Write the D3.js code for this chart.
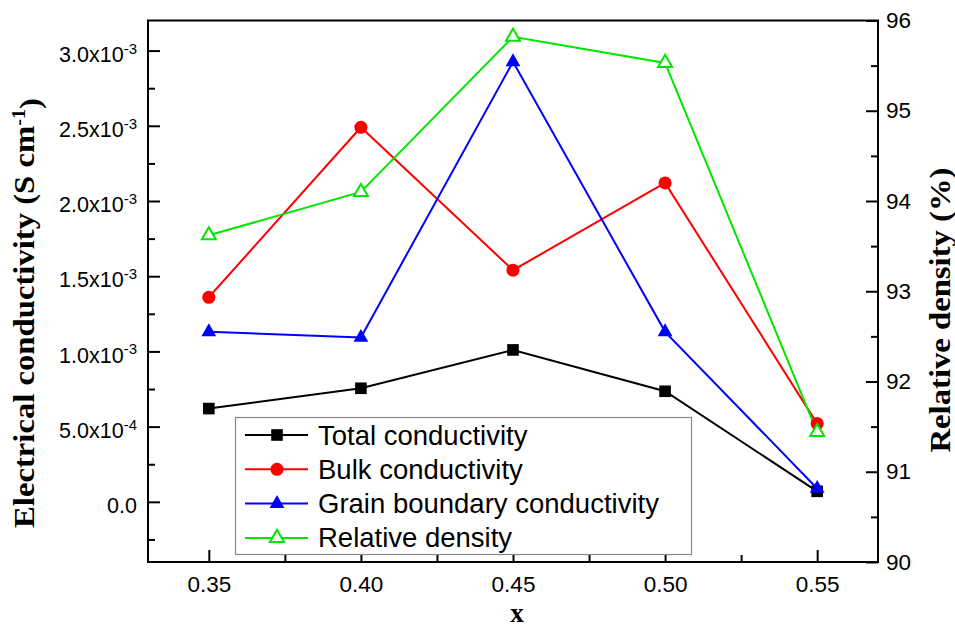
<!DOCTYPE html>
<html>
<head>
<meta charset="utf-8">
<script src="https://cdn.jsdelivr.net/npm/d3@7"></script>
<style>
  body { margin: 0; background: #fff; }
  svg { display: block; }
  .tick text { font-family: "Liberation Sans", Arial, sans-serif; fill: #000; }
</style>
</head>
<body>
<div id="chart"></div>
<script>
// data
var xVals = [0.35, 0.40, 0.45, 0.50, 0.55];
var totalCond = [6.2e-4, 7.55e-4, 1.01e-3, 7.35e-4, 7.0e-5];
var bulkCond = [1.36e-3, 2.49e-3, 1.54e-3, 2.12e-3, 5.2e-4];
var grainCond = [1.13e-3, 1.093e-3, 2.925e-3, 1.13e-3, 8.9e-5];
var relDensity = [93.62, 94.10, 95.82, 95.53, 91.44];

var xTicks = [0.35, 0.40, 0.45, 0.50, 0.55];
var xMinor = [0.375, 0.425, 0.475, 0.525];
var yLeftTicks = [0, 5e-4, 1e-3, 1.5e-3, 2e-3, 2.5e-3, 3e-3];
var yLeftMinor = [-2.5e-4, 2.5e-4, 7.5e-4, 1.25e-3, 1.75e-3, 2.25e-3, 2.75e-3];
var yRightTicks = [90, 91, 92, 93, 94, 95, 96];
var yRightMinor = [90.5, 91.5, 92.5, 93.5, 94.5, 95.5];
var legendNames = ["Total conductivity", "Bulk conductivity", "Grain boundary conductivity", "Relative density"];

var W = 955, H = 628;
var L = 148, R = 878, T = 20.5, B = 562;

var svg = d3.select("#chart").append("svg")
    .attr("width", W)
    .attr("height", H);

var x = d3.scaleLinear().domain([0.33, 0.57]).range([L, R]);
var yL = d3.scaleLinear().domain([-4e-4, 3.2e-3]).range([B, T]);
var yR = d3.scaleLinear().domain([90, 96]).range([B, T]);

// axes (ticks pointing inwards)
function noDomain(g) { g.select(".domain").remove(); }

var gx = svg.append("g").attr("transform", "translate(0," + B + ")")
    .call(d3.axisBottom(x).tickValues(xTicks).tickSizeInner(-12).tickSizeOuter(0).tickPadding(14)
        .tickFormat(d3.format(".2f")))
    .call(noDomain);
gx.selectAll("text").style("font-size", "22.5px");
svg.append("g").attr("transform", "translate(0," + B + ")")
    .call(d3.axisBottom(x).tickValues(xMinor).tickSizeInner(-7).tickSizeOuter(0).tickFormat(""))
    .call(noDomain);

var gl = svg.append("g").attr("transform", "translate(" + L + ",0)")
    .call(d3.axisLeft(yL).tickValues(yLeftTicks).tickSizeInner(-12).tickSizeOuter(0).tickPadding(11))
    .call(noDomain);
gl.selectAll("text").each(function (d) {
    var t = d3.select(this).text("").attr("dy", "0.5em").style("font-size", "21.5px");
    if (d === 0) {
        t.text("0.0");
        return;
    }
    var e = Math.floor(Math.log10(d) + 1e-9);
    var m = d / Math.pow(10, e);
    t.append("tspan").text(m.toFixed(1) + "x10");
    t.append("tspan").attr("dy", "-0.55em").style("font-size", "15px").text(e);
});
svg.append("g").attr("transform", "translate(" + L + ",0)")
    .call(d3.axisLeft(yL).tickValues(yLeftMinor).tickSizeInner(-7).tickSizeOuter(0).tickFormat(""))
    .call(noDomain);

var gr = svg.append("g").attr("transform", "translate(" + R + ",0)")
    .call(d3.axisRight(yR).tickValues(yRightTicks).tickSizeInner(-12).tickSizeOuter(0).tickPadding(8)
        .tickFormat(d3.format("d")))
    .call(noDomain);
gr.selectAll("text").style("font-size", "22.5px");
svg.append("g").attr("transform", "translate(" + R + ",0)")
    .call(d3.axisRight(yR).tickValues(yRightMinor).tickSizeInner(-7).tickSizeOuter(0).tickFormat(""))
    .call(noDomain);

svg.selectAll(".tick line").attr("stroke", "#000").attr("stroke-width", 2);

// frame
svg.append("rect")
    .attr("x", L).attr("y", T)
    .attr("width", R - L).attr("height", B - T)
    .attr("fill", "none").attr("stroke", "#000").attr("stroke-width", 2);

// series
var series = [
    {name: legendNames[0], vals: totalCond, y: yL, color: "#000000", sym: d3.symbolSquare, size: 135, open: false},
    {name: legendNames[1], vals: bulkCond, y: yL, color: "#ff0000", sym: d3.symbolCircle, size: 135, open: false},
    {name: legendNames[2], vals: grainCond, y: yL, color: "#0000ff", sym: d3.symbolTriangle, size: 95, open: false},
    {name: legendNames[3], vals: relDensity, y: yR, color: "#00e600", sym: d3.symbolTriangle, size: 85, open: true}
];

series.forEach(function (s) {
    var line = d3.line()
        .x(function (d, i) { return x(xVals[i]); })
        .y(function (d) { return s.y(d); });

    svg.append("path")
        .datum(s.vals)
        .attr("d", line)
        .attr("fill", "none")
        .attr("stroke", s.color)
        .attr("stroke-width", 2);
});

series.forEach(function (s) {
    svg.selectAll(null)
        .data(s.vals)
        .enter()
        .append("path")
        .attr("transform", function (d, i) {
            return "translate(" + x(xVals[i]) + "," + s.y(d) + ")";
        })
        .attr("d", d3.symbol().type(s.sym).size(s.size))
        .attr("fill", s.open ? "#fff" : s.color)
        .attr("stroke", s.color)
        .attr("stroke-width", s.open ? 2 : 0);
});

// legend
var lg = svg.append("g");
lg.append("rect")
    .attr("x", 235.5).attr("y", 417.5)
    .attr("width", 456).attr("height", 137)
    .attr("fill", "#fff").attr("stroke", "#888").attr("stroke-width", 1.2);

series.forEach(function (s, i) {
    var ly = 435 + i * 34.3;
    lg.append("line")
        .attr("x1", 245).attr("x2", 308)
        .attr("y1", ly).attr("y2", ly)
        .attr("stroke", s.color).attr("stroke-width", 2);
    lg.append("path")
        .attr("transform", "translate(277," + ly + ")")
        .attr("d", d3.symbol().type(s.sym).size(s.size))
        .attr("fill", s.open ? "#fff" : s.color)
        .attr("stroke", s.color)
        .attr("stroke-width", s.open ? 2 : 0);
    lg.append("text")
        .attr("x", 318).attr("y", ly + 9.5)
        .text(s.name)
        .style("font-family", "'Liberation Sans', Arial, sans-serif")
        .style("font-size", "27.5px");
});

// axis titles
var leftTitle = svg.append("text")
    .attr("transform", "translate(34,313) rotate(-90)")
    .attr("text-anchor", "middle")
    .attr("textLength", 430)
    .attr("lengthAdjust", "spacingAndGlyphs")
    .style("font-family", "'Liberation Serif', 'Times New Roman', serif")
    .style("font-weight", "bold")
    .style("font-size", "29px");
leftTitle.append("tspan").text("Electrical conductivity (S cm");
leftTitle.append("tspan").attr("dy", "-0.5em").style("font-size", "18px").text("-1");
leftTitle.append("tspan").attr("dy", "0.5em").text(")");

svg.append("text")
    .attr("transform", "translate(950,310) rotate(-90)")
    .attr("text-anchor", "middle")
    .attr("textLength", 285)
    .attr("lengthAdjust", "spacingAndGlyphs")
    .style("font-family", "'Liberation Serif', 'Times New Roman', serif")
    .style("font-weight", "bold")
    .style("font-size", "29px")
    .text("Relative density (%)");

svg.append("text")
    .attr("x", 517).attr("y", 622)
    .attr("text-anchor", "middle")
    .style("font-family", "'Liberation Serif', 'Times New Roman', serif")
    .style("font-weight", "bold")
    .style("font-size", "27px")
    .text("x");
</script>
</body>
</html>
